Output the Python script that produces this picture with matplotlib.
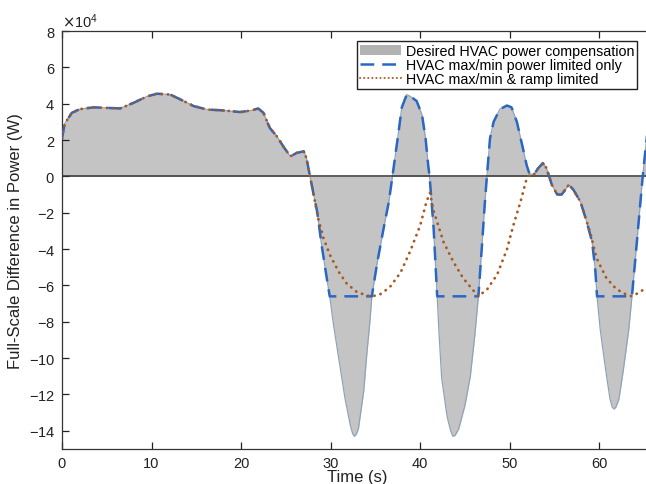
import numpy as np
import matplotlib
matplotlib.use("Agg")
import matplotlib.pyplot as plt
from matplotlib.ticker import ScalarFormatter
from matplotlib.patches import Patch
from matplotlib.lines import Line2D

plt.rcParams['font.family'] = ['Liberation Sans', 'DejaVu Sans']
plt.rcParams['axes.unicode_minus'] = False

# Desired HVAC power compensation (time in s, power in units of 1e4 W)
t_desired = [0, 0.3, 1.1, 2.0, 3.5, 5.0, 6.5, 8.0, 9.5, 10.6, 12.1, 13.2, 14.7, 16.2,
             18.0, 19.9, 21.2, 21.9, 22.5, 23.2, 24.0, 24.7, 25.5, 26.2, 27.0, 27.3,
             27.7, 28.1, 28.5, 29.0, 29.6, 29.9, 30.3, 30.9, 31.6, 32.2, 32.45, 32.65,
             32.85, 33.1, 33.7, 34.0, 34.4, 34.6, 35.2, 35.9, 36.5, 36.9, 37.6, 37.95,
             38.5, 38.9, 39.6, 40.2, 40.6, 40.9, 41.05, 41.5, 41.9, 42.1, 42.4, 43.0,
             43.4, 43.65, 43.9, 44.3, 45.0, 45.6, 46.1, 46.5, 46.9, 47.2, 47.45, 47.8,
             48.2, 48.9, 49.7, 50.2, 50.8, 51.4, 51.9, 52.2, 52.7, 53.2, 53.7, 54.1,
             54.7, 55.3, 55.8, 56.6, 57.1, 57.9, 58.6, 59.2, 59.55, 59.75, 60.1, 60.7,
             61.2, 61.45, 61.65, 61.85, 62.2, 62.7, 63.3, 63.65, 64.2, 64.8, 65.1, 65.5,
             66.0]
p_desired = [2.1, 2.9, 3.5, 3.7, 3.8, 3.77, 3.74, 4.05, 4.4, 4.55, 4.5, 4.24, 3.87, 3.68,
             3.63, 3.54, 3.63, 3.74, 3.5, 2.67, 2.2, 1.66, 1.1, 1.29, 1.38, 1.0,
             0.0, -1.0, -1.96, -3.8, -5.7, -6.6, -8.1, -10.0, -12.2, -13.7, -14.15, -14.3,
             -14.2, -13.9, -11.8, -10.0, -7.9, -6.6, -4.75, -2.9, -1.4, 0.0, 2.5, 3.8,
             4.5, 4.4, 4.15, 3.4, 2.1, 0.6, 0.0, -2.86, -6.6, -8.6, -11.1, -13.2,
             -14.0, -14.3, -14.25, -13.9, -12.6, -11.0, -8.75, -6.6, -3.8, -1.6, 0.0, 2.1,
             3.0, 3.7, 3.9, 3.8, 3.0, 1.7, 0.6, 0.15, 0.1, 0.46, 0.73, 0.46,
             -0.46, -1.0, -1.0, -0.46, -0.73, -1.4, -2.5, -3.6, -5.1, -6.6, -8.4, -10.6,
             -12.25, -12.7, -12.8, -12.7, -12.25, -10.6, -8.4, -6.6, -3.6, -0.28, 1.2, 3.0,
             5.0]

# HVAC max/min power limited only
t_power = [0, 0.3, 1.1, 2.0, 3.5, 5.0, 6.5, 8.0, 9.5, 10.6, 12.1, 13.2, 14.7, 16.2,
           18.0, 19.9, 21.2, 21.9, 22.5, 23.2, 24.0, 24.7, 25.5, 26.2, 27.0, 27.3,
           27.7, 28.1, 28.5, 29.0, 29.6, 29.9, 34.6, 35.2, 35.9, 36.5, 36.9, 37.6, 37.95,
           38.5, 38.9, 39.6, 40.2, 40.6, 40.9, 41.05, 41.5, 41.9, 46.5, 46.9, 47.2,
           47.45, 47.8, 48.2, 48.9, 49.7, 50.2, 50.8, 51.4, 51.9, 52.2, 52.7, 53.2,
           53.7, 54.1, 54.7, 55.3, 55.8, 56.6, 57.1, 57.9, 58.6, 59.2, 59.55, 59.75,
           63.65, 64.2, 64.8, 65.1, 65.5, 66.0]
p_power = [2.1, 2.9, 3.5, 3.7, 3.8, 3.77, 3.74, 4.05, 4.4, 4.55, 4.5, 4.24, 3.87, 3.68,
           3.63, 3.54, 3.63, 3.74, 3.5, 2.67, 2.2, 1.66, 1.1, 1.29, 1.38, 1.0,
           0.0, -1.0, -1.96, -3.8, -5.7, -6.6, -6.6, -4.75, -2.9, -1.4, 0.0, 2.5, 3.8,
           4.5, 4.4, 4.15, 3.4, 2.1, 0.6, 0.0, -2.86, -6.6, -6.6, -3.8, -1.6,
           0.0, 2.1, 3.0, 3.7, 3.9, 3.8, 3.0, 1.7, 0.6, 0.15, 0.1, 0.46,
           0.73, 0.46, -0.46, -1.0, -1.0, -0.46, -0.73, -1.4, -2.5, -3.6, -5.1, -6.6,
           -6.6, -3.6, -0.28, 1.2, 3.0, 5.0]

# HVAC max/min & ramp limited
t_ramp = [0, 0.3, 1.1, 2.0, 3.5, 5.0, 6.5, 8.0, 9.5, 10.6, 12.1, 13.2, 14.7, 16.2,
          18.0, 19.9, 21.2, 21.9, 22.5, 23.2, 24.0, 24.7, 25.5, 26.2, 27.0, 27.3,
          27.7, 28.1, 28.6, 29.2, 29.9, 30.9, 31.8, 32.9, 34.0, 34.6, 35.5, 36.6,
          37.8, 38.9, 40.0, 40.7, 41.1, 41.5, 42.6, 43.7, 44.8, 45.8, 46.5, 47.5,
          48.6, 49.7, 50.4, 51.2, 51.9, 52.3, 52.7, 53.2, 53.7, 54.1, 54.7, 55.3,
          55.8, 56.6, 57.1, 57.9, 58.6, 59.0, 59.7, 60.8, 61.9, 63.0, 63.65, 64.6,
          65.5, 66.0]
p_ramp = [2.1, 2.9, 3.5, 3.7, 3.8, 3.77, 3.74, 4.05, 4.4, 4.55, 4.5, 4.24, 3.87, 3.68,
          3.63, 3.54, 3.63, 3.74, 3.5, 2.67, 2.2, 1.66, 1.1, 1.29, 1.38, 1.0,
          0.0, -1.0, -2.3, -3.4, -4.3, -5.25, -5.9, -6.35, -6.55, -6.6, -6.5, -6.1,
          -5.3, -4.1, -2.7, -1.4, -0.9, -1.9, -3.6, -4.7, -5.6, -6.2, -6.6, -6.2,
          -5.4, -4.0, -2.7, -1.4, -0.1, 0.12, 0.1, 0.46, 0.73, 0.46, -0.46, -1.0,
          -1.0, -0.46, -0.73, -1.4, -2.5, -3.1, -4.5, -5.6, -6.2, -6.5, -6.6, -6.35,
          -6.0, -5.8]

SCALE = 1e4

x_ticks = [0, 10, 20, 30, 40, 50, 60]
y_ticks = [8, 6, 4, 2, 0, -2, -4, -6, -8, -10, -12, -14]

fig = plt.figure(figsize=(6.46, 4.85), dpi=100)
ax = fig.add_axes([62 / 646, 35 / 485, 591 / 646, 418 / 485])

td = np.array(t_desired)
pd_w = np.array(p_desired) * SCALE

ax.fill_between(td, 0, pd_w, color='#c4c4c4', linewidth=0, zorder=1)
ax.plot(td, pd_w, color='#8fa3b8', lw=0.9, zorder=2)
ax.axhline(0, color='#333333', lw=1.1, zorder=3)

ax.plot(t_power, np.array(p_power) * SCALE, color='#2a66c4', lw=1.8,
        dashes=(5.5, 3.2), zorder=4)
ax.plot(t_ramp, np.array(p_ramp) * SCALE, color='#a8581f', lw=2.0,
        dashes=(0.1, 2.2), dash_capstyle='round', zorder=5)

ax.set_xlim(0, 66)
ax.set_ylim(-15 * SCALE, 8 * SCALE)
ax.set_xticks(x_ticks)
ax.set_yticks([v * SCALE for v in y_ticks])

fmt = ScalarFormatter(useMathText=True)
fmt.set_powerlimits((4, 4))
ax.yaxis.set_major_formatter(fmt)
ax.yaxis.get_offset_text().set_fontsize(10.5)
ax.yaxis.get_offset_text().set_color('#222222')

ax.tick_params(direction='in', length=5, width=0.9, labelsize=10.5,
               colors='#222222', top=True, right=True, pad=5)
for s in ax.spines.values():
    s.set_color('#333333')
    s.set_linewidth(0.9)

ax.set_xlabel('Time (s)', fontsize=12, color='#222222', labelpad=-1)
ax.set_ylabel('Full-Scale Difference in Power (W)', fontsize=12, color='#222222',
              labelpad=4)

handles = [
    Patch(facecolor='#b3b3b3', edgecolor='none'),
    Line2D([], [], color='#2a66c4', lw=1.8, dashes=(5.5, 3.2)),
    Line2D([], [], color='#a8581f', lw=1.4, dashes=(0.1, 2.0),
           dash_capstyle='round'),
]
labels = ['Desired HVAC power compensation',
          'HVAC max/min power limited only',
          'HVAC max/min & ramp limited']
leg = ax.legend(handles, labels, loc='upper right',
                bbox_to_anchor=(637 / 646, 1 - 42 / 485),
                bbox_transform=fig.transFigure, borderaxespad=0,
                fontsize=10.3, frameon=True, fancybox=False, framealpha=1,
                edgecolor='#222222', handlelength=2.9, handletextpad=0.3,
                labelspacing=0.02, borderpad=0.2, handleheight=0.7)
leg.get_frame().set_linewidth(1.0)

fig.savefig('out.png', dpi=100)
